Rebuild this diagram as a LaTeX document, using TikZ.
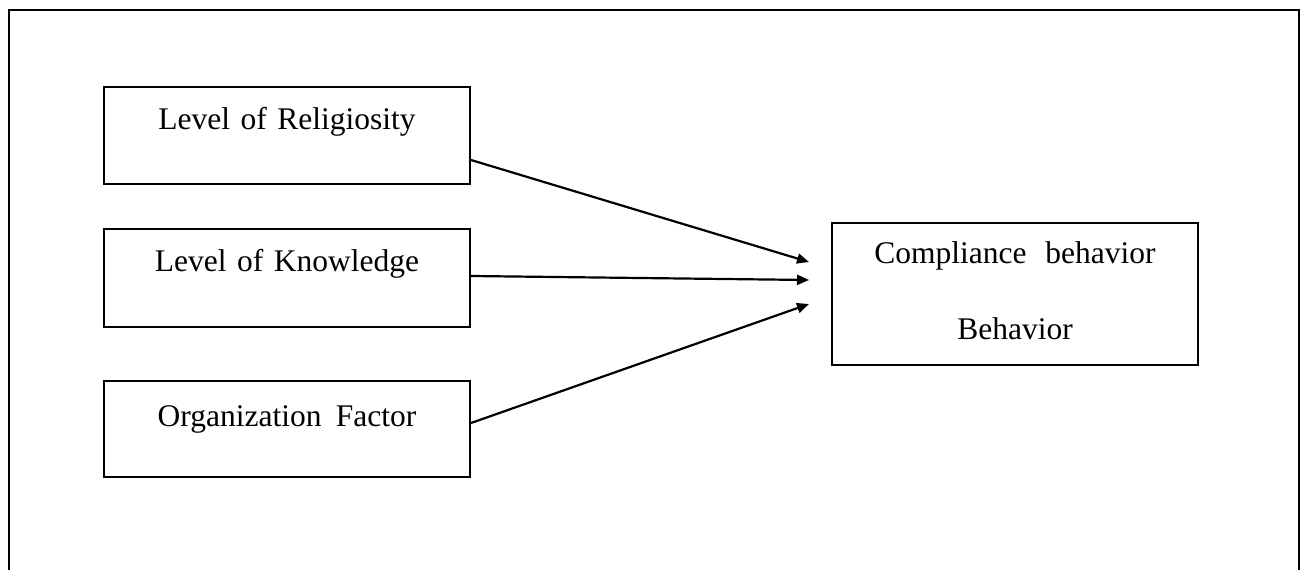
\documentclass[tikz,border=0pt]{standalone}
\usepackage{fontspec}
\setmainfont{Liberation Serif}
\usetikzlibrary{arrows.meta}
\begin{document}
\begin{tikzpicture}[x=1pt,y=-1pt,
  boxnode/.style={draw,line width=2pt,rectangle,inner sep=0pt,anchor=north west,
    minimum width=366pt,text width=366pt,align=center,
    font=\fontsize{31.5}{76}\selectfont},
  conn/.style={line width=2.2pt,-{Triangle[length=12pt,width=10pt]}},
  frame/.style={line width=2pt}]
\useasboundingbox (0,0) rectangle (1301,570);
\draw[frame] (9,572) -- (9,10) -- (1299,10) -- (1299,572);
\node[boxnode,text height=42pt,text depth=55pt] (rel) at (103,86) {Level of Religiosity};
\node[boxnode,text height=42pt,text depth=56pt] (kno) at (103,228) {Level of Knowledge};
\node[boxnode,text height=45pt,text depth=51pt] (org) at (103,380) {Organization\hspace{0.45em}Factor};
\node[boxnode,text height=40pt,text depth=102pt] (com) at (831,222) {Compliance\hspace{0.6em}behavior\\Behavior};
\coordinate (t1) at (809,262);
\coordinate (t2) at (809,280);
\coordinate (t3) at (809,304);
\draw[conn] (rel.east |- 0,160) -- (t1);
\draw[conn] (kno.east |- 0,276) -- (t2);
\draw[conn] (org.east |- 0,423) -- (t3);
\end{tikzpicture}
\end{document}
